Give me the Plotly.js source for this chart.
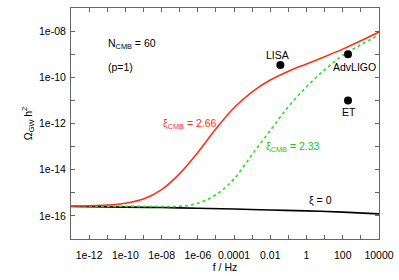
<!DOCTYPE html>
<html>
<head>
<meta charset="utf-8">
<script src="https://cdn.plot.ly/plotly-3.0.1.min.js"></script>
<style>html,body{margin:0;padding:0;background:#fff;}#chart{width:399px;height:280px;}</style>
</head>
<body>
<div id="chart"></div>
<script>
// Frequencies (Hz) at which curves are sampled
const freqRed   = [1e-13,1e-12,1e-11,1e-10,1e-9,1e-8,1e-7,1e-6,1e-5,1e-4,1e-3,1e-2,1e-1,1,10,100,1000,1e4];
const omegaRed  = [2.69e-16,2.75e-16,2.95e-16,3.55e-16,5.4e-16,1.38e-15,6.8e-15,5.6e-14,5.9e-13,4.8e-12,2.35e-11,7.6e-11,1.82e-10,3.8e-10,7.8e-10,1.66e-9,3.8e-9,9.1e-9];

const freqGreen  = [1e-13,1e-12,1e-11,1e-10,1e-9,1e-8,1e-7,1e-6,1e-5,1e-4,1e-3,1e-2,1e-1,1,10,100,1000,1e4];
const omegaGreen = [2.69e-16,2.66e-16,2.63e-16,2.6e-16,2.57e-16,2.54e-16,2.6e-16,3.5e-16,8.3e-16,4.0e-15,4.6e-14,5.0e-13,5.4e-12,3.9e-11,2.1e-10,8.9e-10,2.57e-9,6.8e-9];

const freqBlack  = [1e-13,1e-10,1e-8,1e-6,1e-4,1e-2,1,100,1e4];
const omegaBlack = [2.55e-16,2.4e-16,2.3e-16,2.15e-16,2.0e-16,1.8e-16,1.65e-16,1.45e-16,1.22e-16];

const detNames = ["LISA","AdvLIGO","ET"];
const detFreq  = [0.036,195,195];
const detOmega = [3.4e-10,1.0e-9,1.0e-11];

const xTickVals  = [1e-12,1e-10,1e-8,1e-6,1e-4,1e-2,1,100,1e4];
const xTickText  = ["1e-12","1e-10","1e-08","1e-06","0.0001","0.01","1","100","10000"];
const xMinorVals = [1e-13,1e-11,1e-9,1e-7,1e-5,1e-3,1e-1,10,1000];
const yTickVals  = [1e-16,1e-14,1e-12,1e-10,1e-8];
const yTickText  = ["1e-16","1e-14","1e-12","1e-10","1e-08"];
const yMinorVals = [1e-17,1e-15,1e-13,1e-11,1e-9,1e-7];

const FONT = "Liberation Sans, Arial, Helvetica, sans-serif";
const RED = "#ff3018", GREEN = "#1ee61e";

const traces = [
  {x: freqBlack, y: omegaBlack, mode: "lines", line: {color: "#000", width: 1.6, shape: "spline"}, hoverinfo: "skip"},
  {x: freqGreen, y: omegaGreen, mode: "lines", line: {color: GREEN, width: 1.6, dash: "dot", shape: "spline"}, hoverinfo: "skip"},
  {x: freqRed, y: omegaRed, mode: "lines", line: {color: RED, width: 1.6, shape: "spline"}, hoverinfo: "skip"},
  {x: detFreq, y: detOmega, mode: "markers", marker: {color: "#000", size: 8}, hoverinfo: "skip"}
];

const axisCommon = {
  type: "log", showgrid: false, zeroline: false,
  showline: true, linecolor: "#666", linewidth: 1, mirror: "ticks",
  ticks: "inside", ticklen: 4, tickcolor: "#666", tickwidth: 1,
  tickmode: "array",
  tickfont: {family: FONT, size: 10.5, color: "#000"}
};

const annFont = {family: FONT, size: 10.5, color: "#000"};
const detAnn = detNames.map((name, i) => ({
  xref: "x", yref: "y", x: Math.log10(detFreq[i]), y: Math.log10(detOmega[i]),
  text: name, showarrow: false, font: annFont,
  xanchor: "center", yanchor: "middle",
  xshift: i === 0 ? -3 : (i === 1 ? 6 : 1),
  yshift: i === 0 ? 10 : (i === 1 ? -13 : -12)
}));

const layout = {
  width: 399, height: 280,
  margin: {l: 71, r: 20, t: 8, b: 41},
  paper_bgcolor: "#fff", plot_bgcolor: "#fff",
  showlegend: false,
  font: {family: FONT, size: 10.5, color: "#000"},
  xaxis: Object.assign({}, axisCommon, {
    range: [-13, 4], tickvals: xTickVals, ticktext: xTickText,
    minor: {tickvals: xMinorVals, ticks: "inside", ticklen: 4, tickcolor: "#666", tickwidth: 1, showgrid: false},
    ticklabelstandoff: 6,
    title: {text: "f / Hz", font: {family: FONT, size: 10.5}, standoff: 2}
  }),
  yaxis: Object.assign({}, axisCommon, {
    range: [-17, -7], tickvals: yTickVals, ticktext: yTickText,
    minor: {tickvals: yMinorVals, ticks: "inside", ticklen: 4, tickcolor: "#666", tickwidth: 1, showgrid: false},
    ticklabelstandoff: 2,
    title: {text: "Ω<sub>GW</sub> h<sup>2</sup>", font: {family: FONT, size: 10.5}, standoff: 4}
  }),
  annotations: detAnn.concat([
    {xref: "paper", yref: "paper", x: 0.115, y: 0.845, xanchor: "left", yanchor: "middle", showarrow: false,
     text: "N<sub>CMB</sub> = 60", font: annFont},
    {xref: "paper", yref: "paper", x: 0.115, y: 0.745, xanchor: "left", yanchor: "middle", showarrow: false,
     text: "(p=1)", font: annFont},
    {xref: "paper", yref: "paper", x: 0.48, y: 0.50, xanchor: "right", yanchor: "middle", showarrow: false,
     text: "ξ<sub>CMB</sub> = 2.66", font: {family: FONT, size: 10.5, color: RED}},
    {xref: "paper", yref: "paper", x: 0.627, y: 0.40, xanchor: "left", yanchor: "middle", showarrow: false,
     text: "ξ<sub>CMB</sub> = 2.33", font: {family: FONT, size: 10.5, color: "#11cc11"}},
    {xref: "paper", yref: "paper", x: 0.765, y: 0.17, xanchor: "left", yanchor: "middle", showarrow: false,
     text: "ξ = 0", font: annFont}
  ])
};

Plotly.newPlot("chart", traces, layout, {staticPlot: true, displayModeBar: false});
</script>
</body>
</html>
